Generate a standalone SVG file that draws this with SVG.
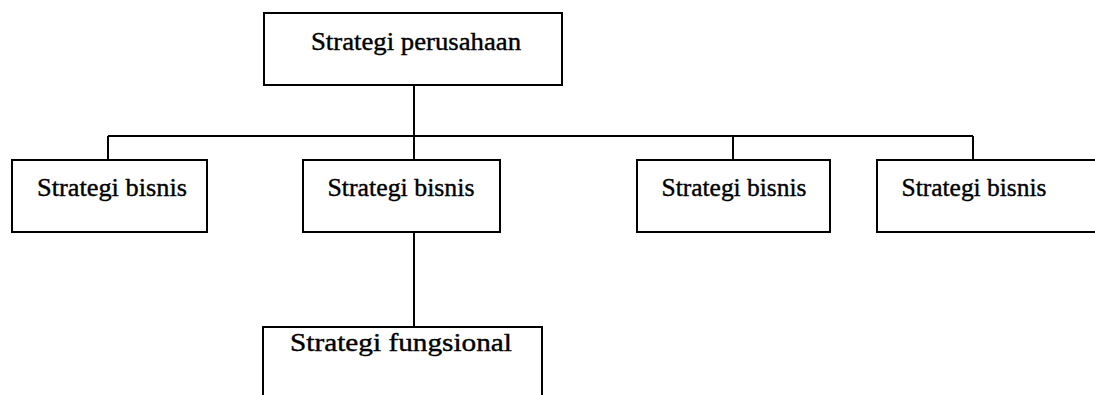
<svg xmlns="http://www.w3.org/2000/svg" width="1095" height="395" viewBox="0 0 1095 395">
<style>
.box{fill:#fff;stroke:#000;stroke-width:2}
.t{font-family:"Liberation Serif","Times New Roman",serif;font-size:26px;fill:#000;stroke:#000;stroke-width:0.4;text-anchor:middle}
.c{stroke:#000;stroke-width:2;fill:none}
</style>
<rect width="1095" height="395" fill="#fff"/>
<g id="connectors">
<path class="c" d="M414 85 V136"/>
<path class="c" d="M108 136 H973"/>
<path class="c" d="M108 136 V160 M414 136 V160 M733 136 V160 M973 136 V160"/>
<path class="c" d="M414 232 V327"/>
</g>
<g id="n-perusahaan">
<rect class="box" x="264" y="13" width="298" height="72"/>
<text class="t" x="416" y="50" textLength="210" lengthAdjust="spacingAndGlyphs">Strategi perusahaan</text>
</g>
<g id="n-bisnis1">
<rect class="box" x="12" y="160" width="195" height="72"/>
<text class="t" x="112" y="196" textLength="150" lengthAdjust="spacingAndGlyphs">Strategi bisnis</text>
</g>
<g id="n-bisnis2">
<rect class="box" x="303" y="160" width="197" height="72"/>
<text class="t" x="401" y="196" textLength="147" lengthAdjust="spacingAndGlyphs">Strategi bisnis</text>
</g>
<g id="n-bisnis3">
<rect class="box" x="637" y="160" width="193" height="72"/>
<text class="t" x="734" y="196" textLength="145" lengthAdjust="spacingAndGlyphs">Strategi bisnis</text>
</g>
<g id="n-bisnis4">
<rect class="box" x="877" y="160" width="222" height="72"/>
<text class="t" x="974" y="196" textLength="145" lengthAdjust="spacingAndGlyphs">Strategi bisnis</text>
</g>
<g id="n-fungsional">
<path class="box" d="M263 400 V327 H542 V400"/>
<text class="t" x="401" y="351" textLength="222" lengthAdjust="spacingAndGlyphs">Strategi fungsional</text>
</g>
</svg>
